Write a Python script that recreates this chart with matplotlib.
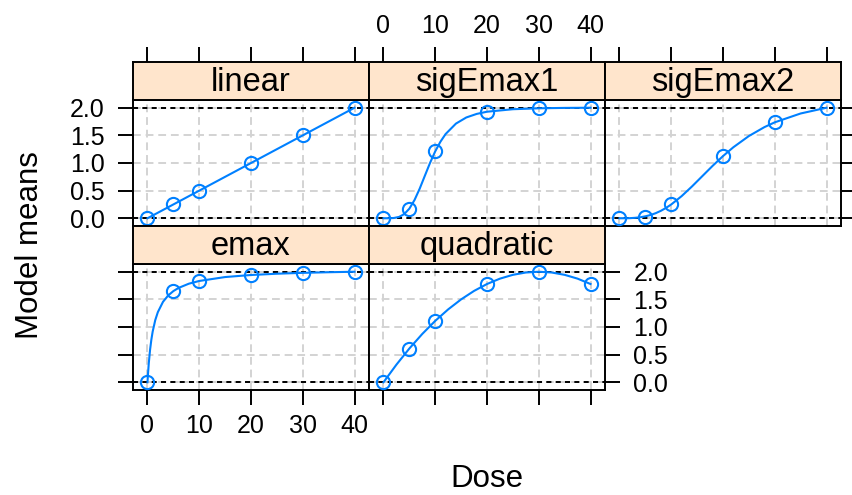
import numpy as np
import matplotlib
matplotlib.use("Agg")
from matplotlib import pyplot as plt

plt.rcParams['font.family'] = ['Liberation Sans', 'DejaVu Sans']

# observed model means at the design doses
doses = [0, 5, 10, 20, 30, 40]
means = {
    'linear':    [0.0, 0.25, 0.50, 1.00, 1.50, 2.00],
    'sigEmax1':  [0.0, 0.17, 1.21, 1.93, 1.99, 2.00],
    'sigEmax2':  [0.0, 0.03, 0.25, 1.13, 1.74, 2.00],
    'emax':      [0.0, 1.65, 1.83, 1.94, 1.98, 2.00],
    'quadratic': [0.0, 0.61, 1.11, 1.78, 2.00, 1.78],
}

# model curves
curve_dose_linear = [0, 40]
curve_mean_linear = [0.0, 2.0]
curve_dose_sig1 = [0, 1, 2, 3, 4, 5, 6, 7, 8, 9, 10, 11, 12, 14, 16, 18, 20, 25, 30, 35, 40]
curve_mean_sig1 = [0.0, 0.0, 0.005, 0.024, 0.075, 0.174, 0.331, 0.537, 0.771, 1.003,
                   1.212, 1.385, 1.524, 1.713, 1.824, 1.888, 1.928, 1.973, 1.990, 1.997, 2.0]
curve_dose_sig2 = [0, 1, 2, 3, 4, 5, 6, 7, 8, 9, 10, 12, 14, 16, 18, 20, 22, 25, 28, 30, 35, 40]
curve_mean_sig2 = [0.0, 0.0, 0.002, 0.008, 0.018, 0.035, 0.059, 0.092, 0.135, 0.188,
                   0.25, 0.40, 0.575, 0.762, 0.949, 1.125, 1.285, 1.488, 1.649, 1.736, 1.896, 2.0]
curve_dose_emax = [0, 0.05, 0.1, 0.25, 0.5, 0.75, 1, 1.5, 2, 3, 4, 5, 6, 8, 10, 15, 20, 25, 30, 35, 40]
curve_mean_emax = [0.0, 0.079, 0.153, 0.344, 0.589, 0.773, 0.917, 1.125, 1.269, 1.456,
                   1.571, 1.65, 1.707, 1.784, 1.833, 1.904, 1.941, 1.964, 1.98, 1.991, 2.0]
curve_dose_quad = [0, 2.5, 5, 7.5, 10, 12.5, 15, 17.5, 20, 22.5, 25, 27.5, 30, 32.5, 35, 37.5, 40]
curve_mean_quad = [0.0, 0.319, 0.611, 0.875, 1.111, 1.319, 1.5, 1.653, 1.778, 1.875,
                   1.944, 1.986, 2.0, 1.986, 1.944, 1.875, 1.778]

curves = {
    'linear': (curve_dose_linear, curve_mean_linear),
    'sigEmax1': (curve_dose_sig1, curve_mean_sig1),
    'sigEmax2': (curve_dose_sig2, curve_mean_sig2),
    'emax': (curve_dose_emax, curve_mean_emax),
    'quadratic': (curve_dose_quad, curve_mean_quad),
}

x_ticks = [0, 10, 20, 30, 40]
y_ticks = [0.0, 0.5, 1.0, 1.5, 2.0]
y_ticklabels = ['0.0', '0.5', '1.0', '1.5', '2.0']

W, H = 852, 495
fig = plt.figure(figsize=(W / 100, H / 100), dpi=100)

def box(x0, y0, x1, y1):
    return [x0 / W, 1 - y1 / H, (x1 - x0) / W, (y1 - y0) / H]

col_x = [(133, 369), (369, 605), (605, 841)]
row_y = [(62, 100, 226), (226, 264, 390)]  # strip top, panel top, panel bottom
layout = [('linear', 0, 0), ('sigEmax1', 0, 1), ('sigEmax2', 0, 2),
          ('emax', 1, 0), ('quadratic', 1, 1)]

blue = '#0080ff'
xlim = (-2.8, 42.8)
ylim = (-0.14, 2.14)
lw = 1.4
tick_kw = dict(direction='out', length=10.5, width=lw, labelsize=18)

for name, r, c in layout:
    x0, x1 = col_x[c]
    st, pt, pb = row_y[r]
    ax = fig.add_axes(box(x0, pt, x1, pb))
    sax = fig.add_axes(box(x0, st, x1, pt))

    # strip
    sax.set_facecolor('#ffe5cc')
    sax.set_xlim(xlim)
    sax.set_yticks([])
    sax.text(0.5, 0.45, name, transform=sax.transAxes, ha='center', va='center', fontsize=23.5)
    for sp in sax.spines.values():
        sp.set_linewidth(lw)

    # grid and reference lines
    for xv in x_ticks:
        ax.axvline(xv, color='#d3d3d3', lw=lw, ls=(0, (4, 2.5)), zorder=0)
    for yv in y_ticks:
        ax.axhline(yv, color='#d3d3d3', lw=lw, ls=(0, (4, 2.5)), zorder=0)
    ax.axhline(0, color='black', lw=lw, ls=(0, (2.6, 2.2)), zorder=1)
    ax.axhline(2, color='black', lw=lw, ls=(0, (2.6, 2.2)), zorder=1)

    cd, cm = curves[name]
    ax.plot(cd, cm, color=blue, lw=1.5, zorder=2)
    ax.plot(doses, means[name], 'o', mfc='none', mec=blue, mew=1.5, ms=9.5, zorder=3)

    ax.set_xlim(xlim)
    ax.set_ylim(ylim)
    for sp in ax.spines.values():
        sp.set_linewidth(lw)

    ax.set_xticks(x_ticks)
    ax.set_yticks(y_ticks)
    ax.set_yticklabels(y_ticklabels)
    ax.tick_params(axis='x', bottom=False, labelbottom=False, top=False, labeltop=False, **tick_kw)
    ax.tick_params(axis='y', left=False, labelleft=False, right=False, labelright=False, **tick_kw)
    sax.set_xticks(x_ticks)
    sax.tick_params(axis='x', bottom=False, labelbottom=False, top=False, labeltop=False, **tick_kw)

    if r == 0:
        sax.tick_params(axis='x', top=True, labeltop=(c == 1), pad=7)
    if r == 1:
        ax.tick_params(axis='x', bottom=True, labelbottom=(c == 0), pad=7)
    if c == 0:
        ax.tick_params(axis='y', left=True, labelleft=(r == 0), pad=10)
    if (r == 0 and c == 2) or (r == 1 and c == 1):
        ax.tick_params(axis='y', right=True, labelright=(r == 1), pad=10)

fig.text(30 / W, 1 - 245 / H, 'Model means', rotation=90, ha='center', va='center', fontsize=22.5)
fig.text(487 / W, 1 - 479 / H, 'Dose', ha='center', va='center', fontsize=22.5)

fig.savefig('out.png', dpi=100)
